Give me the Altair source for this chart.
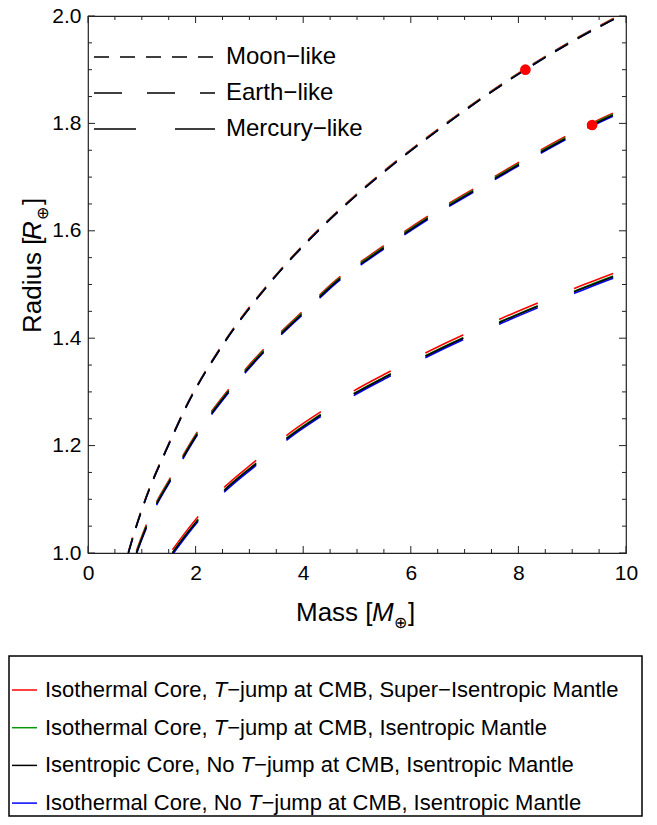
import altair as alt
import pandas as pd

# ---------------- data ----------------
variants = ["Isothermal Core, T-jump at CMB, Super-Isentropic Mantle",
            "Isothermal Core, T-jump at CMB, Isentropic Mantle",
            "Isentropic Core, No T-jump at CMB, Isentropic Mantle",
            "Isothermal Core, No T-jump at CMB, Isentropic Mantle"]
variant_keys = ["red", "green", "black", "blue"]
variant_colors = ["#ff0000", "#0a960a", "#000000", "#0000ff"]

moon_mass = [0.75, 0.85, 1.0, 1.15, 1.43, 1.86, 2.47, 3.40, 4.33, 5.0, 6.54, 8.13, 9.70, 9.90]
moon_red = [1.002, 1.036, 1.082, 1.123, 1.188, 1.281, 1.384, 1.507, 1.607, 1.669, 1.792, 1.902, 1.992, 2.002]
moon_green = [1.001, 1.035, 1.081, 1.122, 1.187, 1.280, 1.383, 1.506, 1.606, 1.668, 1.791, 1.901, 1.991, 2.001]
moon_black = [1.000, 1.034, 1.080, 1.121, 1.186, 1.279, 1.382, 1.505, 1.605, 1.667, 1.790, 1.900, 1.990, 2.000]
moon_blue = [1.000, 1.034, 1.080, 1.121, 1.186, 1.279, 1.382, 1.505, 1.605, 1.667, 1.790, 1.900, 1.990, 2.000]

earth_mass = [0.90, 1.0, 1.2, 1.53, 2.04, 2.64, 3.29, 4.0, 4.70, 5.18, 6.41, 7.2, 8.09, 9.37, 10.0]
earth_red = [1.004, 1.031, 1.080, 1.140, 1.227, 1.308, 1.382, 1.451, 1.516, 1.550, 1.633, 1.680, 1.732, 1.801, 1.830]
earth_green = [1.002, 1.029, 1.078, 1.138, 1.225, 1.306, 1.380, 1.449, 1.514, 1.548, 1.631, 1.678, 1.730, 1.799, 1.828]
earth_black = [1.000, 1.027, 1.076, 1.136, 1.223, 1.304, 1.378, 1.447, 1.512, 1.546, 1.629, 1.676, 1.728, 1.797, 1.826]
earth_blue = [0.998, 1.025, 1.074, 1.134, 1.221, 1.302, 1.376, 1.445, 1.510, 1.544, 1.627, 1.674, 1.726, 1.795, 1.824]

mercury_mass = [1.57, 1.8, 2.04, 2.47, 3.12, 3.81, 4.31, 4.94, 5.59, 6.26, 6.97, 7.64, 8.35, 9.05, 9.80, 10.0]
mercury_red = [1.006, 1.037, 1.067, 1.116, 1.172, 1.228, 1.262, 1.302, 1.337, 1.372, 1.406, 1.435, 1.465, 1.493, 1.522, 1.529]
mercury_green = [1.001, 1.032, 1.062, 1.111, 1.167, 1.223, 1.257, 1.297, 1.332, 1.367, 1.401, 1.430, 1.460, 1.488, 1.517, 1.524]
mercury_black = [1.000, 1.031, 1.061, 1.110, 1.166, 1.222, 1.256, 1.296, 1.331, 1.366, 1.400, 1.429, 1.459, 1.487, 1.516, 1.523]
mercury_blue = [0.997, 1.028, 1.058, 1.107, 1.163, 1.219, 1.253, 1.293, 1.328, 1.363, 1.397, 1.426, 1.456, 1.484, 1.513, 1.520]

dot_mass = [8.13, 9.37]
dot_radius = [1.900, 1.797]

family_names = ["Moon\u2212like", "Earth\u2212like", "Mercury\u2212like"]

x_major = [0, 2, 4, 6, 8, 10]
x_minor = [0.5, 1, 1.5, 2.5, 3, 3.5, 4.5, 5, 5.5, 6.5, 7, 7.5, 8.5, 9, 9.5]
y_major = [1.0, 1.2, 1.4, 1.6, 1.8, 2.0]
y_minor = [1.05, 1.1, 1.15, 1.25, 1.3, 1.35, 1.45, 1.5, 1.55, 1.65, 1.7, 1.75, 1.85, 1.9, 1.95]

# ---------------- styling ----------------
W = 538
H = 537
FONT = "Liberation Sans"
DASHES = {"moon": [15, 11], "earth": [28, 25], "mercury": [42, 39]}
FRAME = "#222222"

x_enc = alt.X("mass:Q", scale=alt.Scale(domain=[0, 10], nice=False, zero=False),
              axis=alt.Axis(values=x_major, format="d", ticks=False, domain=False, grid=False,
                            labelFontSize=21, labelFont=FONT, labelColor="#000", labelPadding=9,
                            labelFlush=False, labelOverlap=False, title=None))
y_enc = alt.Y("radius:Q", scale=alt.Scale(domain=[1, 2], nice=False, zero=False),
              axis=alt.Axis(values=y_major, format=".1f", ticks=False, domain=False, grid=False,
                            labelFontSize=21, labelFont=FONT, labelColor="#000", labelPadding=7,
                            labelFlush=False, labelOverlap=False, title=None))

layers = []

families = [
    ("moon", moon_mass, [moon_red, moon_green, moon_blue, moon_black], [0, 1, 3, 2]),
    ("earth", earth_mass, [earth_red, earth_green, earth_blue, earth_black], [0, 1, 3, 2]),
    ("mercury", mercury_mass, [mercury_red, mercury_green, mercury_blue, mercury_black], [0, 1, 3, 2]),
]
for fam, mass, series_list, color_idx in families:
    for rs, ci in zip(series_list, color_idx):
        df = pd.DataFrame({"mass": mass, "radius": rs})
        layers.append(
            alt.Chart(df).mark_line(color=variant_colors[ci], strokeWidth=1.6, clip=True,
                                    strokeDash=DASHES[fam], interpolate="monotone")
            .encode(x=x_enc, y=y_enc)
        )

dots = pd.DataFrame({"mass": dot_mass, "radius": dot_radius})
layers.append(alt.Chart(dots).mark_circle(color="#ff0000", opacity=1, size=115)
              .encode(x=x_enc, y=y_enc))

# frame ticks (inward)
def xticks(vals, length, top):
    df = pd.DataFrame({"mass": vals})
    if top:
        return alt.Chart(df).mark_rule(color=FRAME, strokeWidth=1).encode(
            x=x_enc, y=alt.value(0), y2=alt.value(length))
    return alt.Chart(df).mark_rule(color=FRAME, strokeWidth=1).encode(
        x=x_enc, y=alt.value(H), y2=alt.value(H - length))

def yticks(vals, length, right):
    df = pd.DataFrame({"radius": vals})
    if right:
        return alt.Chart(df).mark_rule(color=FRAME, strokeWidth=1).encode(
            y=y_enc, x=alt.value(W), x2=alt.value(W - length))
    return alt.Chart(df).mark_rule(color=FRAME, strokeWidth=1).encode(
        y=y_enc, x=alt.value(0), x2=alt.value(length))

for top in (False, True):
    layers.append(xticks(x_major, 7, top))
    layers.append(xticks(x_minor, 4, top))
for right in (False, True):
    layers.append(yticks(y_major, 7, right))
    layers.append(yticks(y_minor, 4, right))

def text(s, x, y, size, italic=False, align="left", baseline="alphabetic", angle=0):
    df = pd.DataFrame({"t": [s]})
    kw = dict(align=align, baseline=baseline, fontSize=size, font=FONT, color="#000")
    if italic:
        kw["fontStyle"] = "italic"
    if angle:
        kw["angle"] = angle
    return alt.Chart(df).mark_text(**kw).encode(x=alt.value(x), y=alt.value(y), text="t:N")

def hline(x0, x1, y, color, dash=None, width=1.5):
    df = pd.DataFrame({"t": [0]})
    kw = dict(color=color, strokeWidth=width)
    if dash:
        kw["strokeDash"] = dash
    return alt.Chart(df).mark_rule(**kw).encode(x=alt.value(x0), x2=alt.value(x1), y=alt.value(y))

# inner legend (dash styles)
for i, (fam, name) in enumerate(zip(["moon", "earth", "mercury"], family_names)):
    ly = 41 + 36 * i
    layers.append(hline(6, 127, ly, "#000", DASHES[fam], 1.6))
    layers.append(text(name, 138, ly, 24, baseline="middle"))

# axis titles
TS = 26
layers.append(text("Mass [", 208, 605, TS))
layers.append(text("M", 284, 605, TS, italic=True))
layers.append(text("\u2295", 306, 612, 16))
layers.append(text("]", 320, 605, TS))

layers.append(text("Radius [", -47, 317, TS, angle=270))
layers.append(text("R", -47, 224, TS, italic=True, angle=270))
layers.append(text("\u2295", -40, 204, 16, angle=270))
layers.append(text("]", -47, 189, TS, angle=270))

# bottom legend with italic T
AW = {"I": 278, "s": 500, "o": 556, "t": 278, "h": 556, "e": 556, "r": 333, "m": 833, "a": 556,
      "l": 222, " ": 278, "C": 722, ",": 278, "n": 556, "p": 556, "i": 222, "c": 500, "N": 722,
      "T": 611}
LS = 22

def tw(s):
    return sum(AW.get(ch, 556) for ch in s) * LS / 1000.0

legend_parts = [
    ("Isothermal Core, ", "\u2212jump at CMB, Super\u2212Isentropic Mantle"),
    ("Isothermal Core, ", "\u2212jump at CMB, Isentropic Mantle"),
    ("Isentropic Core, No ", "\u2212jump at CMB, Isentropic Mantle"),
    ("Isothermal Core, No ", "\u2212jump at CMB, Isentropic Mantle"),
]
box_df = pd.DataFrame({"t": [0]})
layers.append(alt.Chart(box_df).mark_rect(fillOpacity=0, stroke="#000", strokeWidth=1.5)
              .encode(x=alt.value(-79), x2=alt.value(554), y=alt.value(640), y2=alt.value(800)))
for i, (pre, post) in enumerate(legend_parts):
    ry = 674 + 37.7 * i
    layers.append(hline(-76, -51, ry, variant_colors[i], None, 1.5))
    tx = -43
    layers.append(text(pre, tx, ry, LS, baseline="middle"))
    layers.append(text("T", tx + tw(pre), ry, LS, italic=True, baseline="middle"))
    layers.append(text(post, tx + tw(pre) + tw("T"), ry, LS, baseline="middle"))

chart = alt.layer(*layers).properties(
    width=W, height=H,
    autosize=alt.AutoSizeParams(type="none"),
    padding={"left": 80, "top": 8, "right": 23, "bottom": 264},
).configure_view(stroke=FRAME, strokeWidth=1.2)

chart.save("out.html", embed_options={"renderer": "svg", "actions": False})
